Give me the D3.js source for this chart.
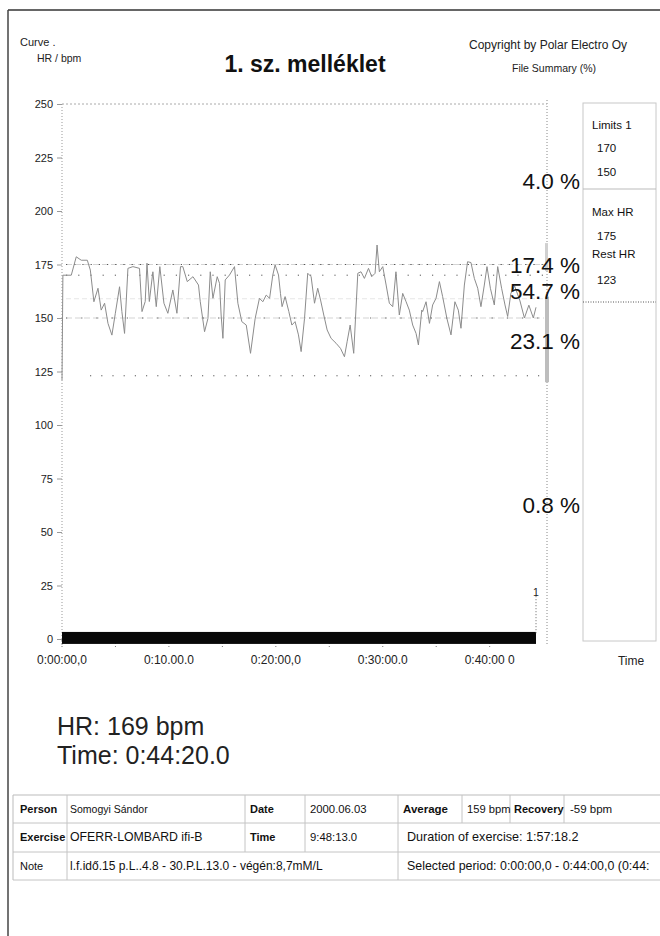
<!DOCTYPE html>
<html><head><meta charset="utf-8">
<script src="https://cdn.jsdelivr.net/npm/d3@7"></script>
<style>
html,body{margin:0;padding:0;background:#fff;}
svg{display:block;font-family:"Liberation Sans",Arial,sans-serif;}
</style></head>
<body>
<svg id="c" width="660" height="936"></svg>
<script>
// ---------- DATA ----------
const hrTimes = [0,5,52,80,108,142,159,179,202,220,239,258,280,299,323,336,351,370,398,435,449,467,477,490,510,529,549,572,594,622,645,665,678,703,735,766,776,800,819,832,847,871,884,893,903,916,940,968,987,1009,1034,1058,1084,1108,1127,1146,1165,1183,1196,1215,1226,1235,1252,1273,1290,1308,1327,1342,1361,1379,1398,1417,1435,1451,1469,1488,1510,1538,1563,1585,1600,1617,1637,1660,1678,1697,1720,1738,1757,1768,1781,1800,1819,1837,1856,1874,1893,1912,1931,1949,1968,1987,2000,2019,2024,2043,2062,2080,2099,2118,2136,2160,2183,2205,2224,2239,2258,2276,2295,2314,2333,2351,2370,2385,2404,2426,2445,2467,2486,2501,2519,2540,2570,2595,2620,2645,2660];
const hrValues = [121,170,170,178.6,177,177,172.4,157.6,163.9,153.7,156.9,147.5,142,152,164.6,153,142.8,173.2,174,173.2,153,157.7,175.6,157.7,171.6,155.3,174,156.9,152.2,163.1,152.2,174,174,167,169.3,165.4,157.6,143.6,149.8,171.6,159.2,169.3,166.2,151.4,140.5,167.8,170.1,174,156.9,148.3,146.7,133.5,149.8,159.2,157.6,160.7,159.2,170.1,174.8,170.1,161.5,155.3,160,153,146.7,148.3,142.1,134.3,149.8,170.9,169.3,156.9,163.9,158.4,151.4,144.4,140.5,138.2,135.8,131.9,138.9,146.7,133.5,170.9,171.6,168.5,173.2,169.3,170.9,184.1,171.6,174,165.4,156.9,155.3,171.6,151.4,161.5,157.6,153.7,146.7,142.8,137.4,153.7,153,157.6,147.5,156.1,159.2,167,160,149.8,142.1,157.6,153.7,145.2,165.4,176.3,175.9,168.5,163.9,155.3,165.4,174,163.9,156.1,174,163.9,156.1,150.7,161.5,165,158,150,156,150,155];

const yTicks = [0,25,50,75,100,125,150,175,200,225,250];
const xTickTimes = [0,600,1200,1800,2400];
const xTickLabels = ["0:00:00,0","0:10.00.0","0:20:00,0","0:30:00.0","0:40:00 0"];
const xMinorTimes = [0,300,600,900,1200,1500,1800,2100,2400];

const maxHR = 175, limitHigh = 170, limitLow = 150, restHR = 123, avgHR = 159;
const zonePercents = ["4.0 %","17.4 %","54.7 %","23.1 %","0.8 %"];
const baseBar = {start:0, end:2660, top:3.3, bottom:-2.3};
const lapTime = 2660, lapLabel = "1";

const panelTexts = ["Limits 1","170","150","Max HR","175","Rest HR","123"];
const tableRows = [
  ["Person","Somogyi Sándor","Date","2000.06.03","Average","159 bpm","Recovery","-59 bpm"],
  ["Exercise","OFERR-LOMBARD ifi-B","Time","9:48:13.0","Duration of exercise: 1:57:18.2"],
  ["Note","l.f.idő.15 p.L..4.8 - 30.P.L.13.0 - végén:8,7mM/L","Selected period: 0:00:00,0 - 0:44:00,0 (0:44:"]
];
const readoutHR = "HR: 169 bpm", readoutTime = "Time: 0:44:20.0";

// ---------- LAYOUT ----------
const svg = d3.select("#c");
const x = d3.scaleLinear().domain([0,2660]).range([62,536]);
const y = d3.scaleLinear().domain([0,250]).range([639,104]);
const plotRight = 547;

// page frame
svg.append("line").attr("x1",8).attr("x2",660).attr("y1",10).attr("y2",10).attr("stroke","#333").attr("stroke-width",1.5);
svg.append("line").attr("x1",8).attr("x2",8).attr("y1",10).attr("y2",936).attr("stroke","#444").attr("stroke-width",1.5);

// header
svg.append("text").attr("x",20).attr("y",46).attr("font-size",11).attr("fill","#222").text("Curve .");
svg.append("text").attr("x",37).attr("y",62).attr("font-size",10.5).attr("fill","#222").text("HR / bpm");
svg.append("text").attr("x",305).attr("y",72).attr("text-anchor","middle").attr("font-size",23).attr("font-weight","bold").attr("fill","#111").text("1. sz. melléklet");
svg.append("text").attr("x",548).attr("y",49).attr("text-anchor","middle").attr("font-size",12).attr("fill","#222").text("Copyright by Polar Electro Oy");
svg.append("text").attr("x",554).attr("y",72).attr("text-anchor","middle").attr("font-size",10.5).attr("fill","#222").text("File Summary (%)");

// axes frame lines
svg.append("line").attr("x1",62).attr("x2",62).attr("y1",104).attr("y2",645).attr("stroke","#999").attr("stroke-dasharray","1,2");
svg.append("line").attr("x1",plotRight).attr("x2",plotRight).attr("y1",100).attr("y2",645).attr("stroke","#888").attr("stroke-dasharray","1,2");
svg.append("line").attr("x1",62).attr("x2",plotRight).attr("y1",y(250)).attr("y2",y(250)).attr("stroke","#aaa").attr("stroke-dasharray","2,2");

// y axis
const yAxis = d3.axisLeft(y).tickValues(yTicks).tickSize(5).tickPadding(4);
const gy = svg.append("g").attr("transform","translate(62,0)").call(yAxis);
gy.select(".domain").remove();
gy.selectAll(".tick line").attr("stroke","#999");
gy.selectAll(".tick text").attr("font-size",11).attr("fill","#222").attr("font-family","Liberation Sans, Arial, sans-serif");

// x axis labels
const gx = svg.append("g");
gx.selectAll("text").data(xTickTimes).join("text")
  .attr("x",d=>x(d)).attr("y",664).attr("text-anchor","middle").attr("font-size",12).attr("fill","#222")
  .text((d,i)=>xTickLabels[i]);
gx.selectAll("line").data(xMinorTimes).join("line")
  .attr("x1",d=>x(d)).attr("x2",d=>x(d)).attr("y1",640).attr("y2",648).attr("stroke","#777").attr("stroke-dasharray","1,2");
svg.append("text").attr("x",631).attr("y",665).attr("text-anchor","middle").attr("font-size",12).attr("fill","#222").text("Time");

// reference lines
function hline(v, color, dash, width, x1){
  svg.append("line").attr("x1",x1||66).attr("x2",plotRight-3).attr("y1",y(v)).attr("y2",y(v))
    .attr("stroke",color).attr("stroke-dasharray",dash).attr("stroke-width",width||1);
}
hline(maxHR,"#d4d4d4","6,3",1.2);
hline(limitLow,"#d4d4d4","6,3",1.2);
hline(avgHR,"#e6e6e6","5,3",1);
hline(maxHR,"#555","1.2,7");
hline(limitHigh,"#555","1.2,11");
hline(limitLow,"#666","1.2,14");
hline(restHR,"#555","1.2,10",1,90);

// HR curve
const hrData = hrTimes.map((t,i)=>({t, v:hrValues[i]}));
svg.append("path").datum(hrData)
  .attr("d", d3.line().x(d=>x(d.t)).y(d=>y(d.v)))
  .attr("fill","none").attr("stroke","#8c8c8c").attr("stroke-width",1);

// baseline bar
svg.append("rect").attr("x",x(baseBar.start)).attr("y",y(baseBar.top))
  .attr("width",x(baseBar.end)-x(baseBar.start)).attr("height",y(baseBar.bottom)-y(baseBar.top)).attr("fill","#080808");

// lap marker
svg.append("line").attr("x1",x(lapTime)).attr("x2",x(lapTime)).attr("y1",y(20)).attr("y2",y(2)).attr("stroke","#666").attr("stroke-dasharray","1,2");
svg.append("text").attr("x",x(lapTime)).attr("y",y(22)+4).attr("text-anchor","middle").attr("font-size",10.5).attr("fill","#222").text(lapLabel);

// zone bar near right edge
svg.append("rect").attr("x",plotRight-2).attr("y",y(160)).attr("width",4).attr("height",y(120)-y(160)).attr("fill","#bdbdbd");
svg.append("rect").attr("x",plotRight-2).attr("y",y(185)).attr("width",3).attr("height",y(172)-y(185)).attr("fill","#d0d0d0");

// zone percentages
const zoneLabelY = [189,273,299,349,513];
svg.selectAll("text.zp").data(zonePercents).join("text").attr("class","zp")
  .attr("x",580).attr("y",(d,i)=>zoneLabelY[i]).attr("text-anchor","end")
  .attr("font-size",22.5).attr("fill","#111").text(d=>d);

// right panel
svg.append("rect").attr("x",583).attr("y",103).attr("width",73).attr("height",538).attr("fill","none").attr("stroke","#c8c8c8");
svg.append("line").attr("x1",583).attr("x2",656).attr("y1",189).attr("y2",189).attr("stroke","#bbb");
svg.append("line").attr("x1",583).attr("x2",656).attr("y1",302).attr("y2",302).attr("stroke","#555").attr("stroke-dasharray","1,1.5");
const panelY = [129,152,176,216,240,258,284];
const panelX = [592,597,597,592,597,592,597];
svg.selectAll("text.pt").data(panelTexts).join("text").attr("class","pt")
  .attr("x",(d,i)=>panelX[i]).attr("y",(d,i)=>panelY[i]).attr("font-size",11.5).attr("fill","#111").text(d=>d);

// readout
svg.append("text").attr("x",57).attr("y",735).attr("font-size",25).attr("fill","#222").text(readoutHR);
svg.append("text").attr("x",57).attr("y",764).attr("font-size",25).attr("fill","#222").text(readoutTime);

// table
const rowTop = [795,823,852], rowH = [28,29,28];
const colX = [
  [20,70,250,310,403,467,514,570],
  [20,70,250,310,407],
  [20,70,407]
];
const cellSize = [
  [11,10.5,11,11.3,11.5,11.2,11,11.5],
  [11,12.3,11,11.3,12.6],
  [11,12,12.4]
];
const cellBold = [
  [1,0,1,0,1,0,1,0],
  [1,0,1,0,0],
  [0,0,0]
];
const vLines = [
  [67,245,305,398,462,510,564],
  [67,245,305,398],
  [67,398]
];
const tg = svg.append("g");
tg.append("line").attr("x1",13).attr("x2",660).attr("y1",795).attr("y2",795).attr("stroke","#bbb");
[823,852,880].forEach(v=>tg.append("line").attr("x1",13).attr("x2",660).attr("y1",v).attr("y2",v).attr("stroke","#c4c4c4"));
tg.append("line").attr("x1",13).attr("x2",13).attr("y1",795).attr("y2",880).attr("stroke","#bbb");
tableRows.forEach((row,r)=>{
  vLines[r].forEach(vx=>tg.append("line").attr("x1",vx).attr("x2",vx).attr("y1",rowTop[r]).attr("y2",rowTop[r]+rowH[r]).attr("stroke","#c4c4c4"));
  row.forEach((cell,c)=>{
    tg.append("text").attr("x",colX[r][c]).attr("y",rowTop[r]+18).attr("font-size",cellSize[r][c])
      .attr("font-weight",cellBold[r][c]?"bold":"normal").attr("fill","#111").text(cell);
  });
});
</script>
</body></html>
